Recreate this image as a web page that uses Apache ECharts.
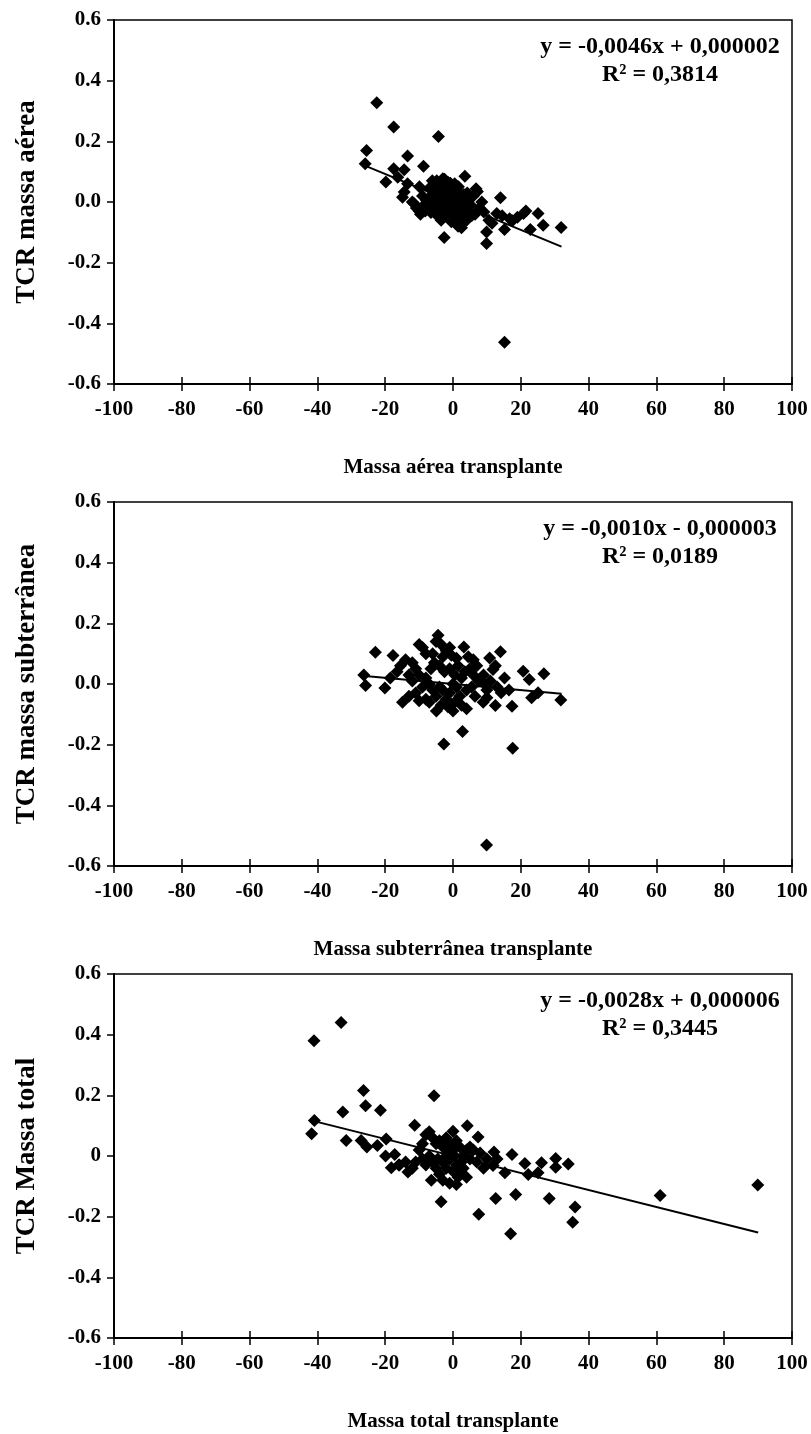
<!DOCTYPE html>
<html><head><meta charset="utf-8">
<script src="https://cdn.jsdelivr.net/npm/echarts@6/dist/echarts.min.js"></script>
<style>html,body{margin:0;padding:0;background:#fff}#c{width:811px;height:1434px}</style>
</head><body><div id="c"></div>
<script>
const xTicks = [-100,-80,-60,-40,-20,0,20,40,60,80,100];
const yTicks = [-0.6,-0.4,-0.2,0,0.2,0.4,0.6];

const xNames = ['Massa aérea transplante','Massa subterrânea transplante','Massa total transplante'];
const yNames = ['TCR massa aérea','TCR massa subterrânea','TCR Massa total'];
const eqLines = ['y = -0,0046x + 0,000002','y = -0,0010x - 0,000003','y = -0,0028x + 0,000006'];
const r2Lines = ['R² = 0,3814','R² = 0,0189','R² = 0,3445'];

const aereaPoints = [[-22.5,0.327],[-17.5,0.247],[-4.3,0.216],[-25.5,0.17],[-25.9,0.126],[-13.4,0.152],[-17.5,0.11],[-14.4,0.106],[-8.7,0.118],[-19.8,0.066],[-16.3,0.082],[-13.4,0.06],[-14.9,0.016],[-14.4,0.033],[-9.9,0.05],[3.5,0.085],[6.8,0.044],[-6.1,0.07],[-3,0.077],[-0.8,0.062],[14,0.014],[-2.6,-0.117],[9.9,-0.137],[15.2,-0.462],[31.9,-0.084],[26.6,-0.077],[25.1,-0.038],[22.8,-0.091],[20.8,-0.038],[19,-0.05],[15.2,-0.091],[12.9,-0.038],[10.6,-0.06],[9.1,-0.033],[9.9,-0.099],[16.7,-0.055],[11.5,-0.07],[14.5,-0.045],[17.5,-0.062],[21.5,-0.03],
[-11.5,-0.005],[-10.8,-0.02],[-9.6,-0.04],[-8.5,-0.01],[-7.8,0.005],[-7.2,-0.025],[-6.5,-0.035],[-6,0.01],[-5.5,-0.015],[-5,0.03],[-4.6,-0.045],[-4.2,0.045],[-3.8,0.0],[-3.5,-0.06],[-3.2,0.02],[-2.8,-0.02],[-2.4,0.06],[-2,-0.04],[-1.6,0.01],[-1.2,-0.01],[-0.8,0.035],[-0.4,-0.03],[0,0.0],[0.4,-0.05],[0.8,0.02],[1.2,-0.02],[1.6,0.05],[2,-0.07],[2.4,0.0],[2.8,-0.04],[3.2,0.025],[3.6,-0.015],[4,-0.06],[4.4,0.01],[4.8,-0.03],[5.2,-0.01],[6,0.02],[6.5,-0.04],[7.2,0.035],[7.8,-0.02],[-9,0.02],[-7,0.045],[-5.5,0.06],[-1,0.055],[1,0.04],[2.5,-0.085],[1.5,-0.08],[-0.5,-0.065],[-4,-0.025],[-6.8,-0.005],[-8.2,-0.03],[5.5,-0.045],[3,-0.055],[0.2,0.015],[-2.2,-0.005],[-3,0.04],[1.8,0.01],[4.2,0.03],[-10,-0.03],[-12,0.0],[8.5,0.0],[-4.8,0.07],[-2.5,0.075],[-1.5,0.065],[0.5,0.06],[-6.5,0.02]];

const subterraneaPoints = [[9.9,-0.531],[-2.7,-0.198],[2.8,-0.157],[17.6,-0.212],[-26.3,0.03],[-25.8,-0.005],[-22.9,0.105],[-17.7,0.094],[-4.4,0.161],[-10,0.13],[3.2,0.122],[14,0.106],[10.8,0.086],[26.8,0.034],[20.7,0.042],[22.5,0.015],[25.1,-0.029],[23.2,-0.045],[31.8,-0.053],[17.4,-0.073],[12.5,-0.071],[8.9,-0.06],[4,-0.082],[0,-0.089],[-4.9,-0.089],[-14.9,-0.06],[-20.1,-0.013],[11.8,0.048],[15.2,0.02],[14.2,-0.029],[8.9,0.005],
[-15.5,0.06],[-14,0.08],[-16.5,0.04],[-18.5,0.02],[-12,0.01],[-11,-0.03],[-13,-0.04],[-10,-0.055],[-8,-0.05],[-7,-0.06],[-9,0.12],[-8,0.1],[-6,0.1],[-5,0.14],[-3.5,0.13],[-2,0.11],[-1,0.12],[-3,0.09],[-6.5,0.05],[-5.5,0.07],[-4,0.06],[-2.5,0.04],[-1,0.05],[0.5,0.03],[1.5,0.06],[2.5,0.02],[3.5,0.04],[5,0.05],[6,0.03],[7,0.06],[7.5,0.01],[5.5,-0.01],[4,-0.02],[2,-0.04],[1,-0.01],[0,0.0],[-1,-0.03],[-2,-0.05],[-3,-0.02],[-4,-0.01],[-5,-0.04],[-6,-0.02],[-7,0.0],[-8,0.02],[-9,-0.01],[-10,0.03],[-11,0.05],[-12,0.07],[-13,0.03],[-3.5,-0.07],[-1.5,-0.075],[0.5,-0.06],[2.5,-0.07],[6.5,-0.04],[9,0.03],[10,-0.02],[11,0.01],[12.5,0.06],[13,-0.01],[6,0.08],[4.5,0.09],[1,0.085],[-0.5,0.095],[16.5,-0.02],[10,-0.045]];

const totalPoints = [[-41,0.38],[-33,0.44],[-26.4,0.216],[-25.8,0.166],[-32.5,0.145],[-21.4,0.151],[-5.6,0.199],[-40.9,0.117],[-41.7,0.073],[-31.5,0.051],[-27.1,0.051],[-25.4,0.03],[-22.3,0.035],[-19.7,0.056],[-11.3,0.101],[4.2,0.1],[7.4,0.063],[0,0.082],[-3.5,-0.151],[7.6,-0.192],[12.6,-0.14],[18.5,-0.127],[17,-0.256],[28.4,-0.14],[36,-0.168],[35.3,-0.218],[34,-0.026],[30.3,-0.008],[30.3,-0.037],[26.1,-0.022],[21.2,-0.025],[17.4,0.005],[22.2,-0.061],[25.1,-0.055],[15.3,-0.055],[11.8,-0.031],[12.1,0.013],[13,-0.01],[1,-0.094],[-6.4,-0.08],[-13.3,-0.053],[-18.2,-0.039],[-19.9,0],[-17.2,0.005],[-15.8,-0.03],[89.9,-0.096],[61.1,-0.13],
[-8,0.07],[-6,0.06],[-5,0.04],[-4,0.05],[-3,0.03],[-2,0.06],[-1,0.04],[0,0.02],[1,0.05],[2,0.03],[3,0.0],[4,0.02],[5,-0.01],[6,0.02],[-7,0.0],[-6,-0.02],[-5,-0.04],[-4,-0.06],[-3,-0.02],[-2,-0.04],[-1,-0.01],[0,-0.05],[1,-0.03],[2,-0.06],[3,-0.04],[4,-0.07],[-8,-0.03],[-9,-0.01],[-10,0.02],[-11,-0.02],[-12,-0.04],[-14,-0.02],[-9,0.04],[-7,0.08],[-2,0.0],[0.5,0.0],[-1.5,0.02],[2.5,-0.02],[5,0.03],[7,-0.02],[8,0.01],[9,-0.04],[-4.5,-0.01],[-3,-0.08],[-1,-0.09],[1.5,-0.07],[10,-0.01],[-16,-0.03]];

const trendAerea = [[-26,0.12],[32,-0.147]];
const trendSubterranea = [[-26,0.026],[32,-0.032]];
const trendTotal = [[-41,0.115],[90,-0.252]];

const pointSets = [aereaPoints, subterraneaPoints, totalPoints];
const trendSets = [trendAerea, trendSubterranea, trendTotal];

const FONT = '"Liberation Serif", "Times New Roman", serif';
const gridTops = [20, 502, 974];
const gridH = 364;
const chart = echarts.init(document.getElementById('c'), null, {renderer:'canvas'});

const grids = [], xAxes = [], yAxes = [], series = [], graphics = [];
gridTops.forEach((top, i) => {
  grids.push({left:114, width:678, top:top, height:gridH, show:true, borderColor:'#000', borderWidth:1.5, backgroundColor:'transparent'});
  const baseX = {gridIndex:i, type:'value', min:xTicks[0], max:xTicks[xTicks.length-1], interval:20};
  xAxes.push(Object.assign({}, baseX, {
    position:'bottom',
    name:xNames[i], nameLocation:'middle', nameGap:73,
    nameTextStyle:{fontFamily:FONT, fontWeight:'bold', fontSize:21, color:'#000'},
    axisLine:{show:true, onZero:false, lineStyle:{color:'#000', width:2}},
    axisTick:{show:true, inside:false, length:7, lineStyle:{color:'#000', width:1.5}},
    axisLabel:{fontFamily:FONT, fontWeight:'bold', fontSize:21, color:'#000', margin:15},
    splitLine:{show:false}
  }));
  xAxes.push(Object.assign({}, baseX, {
    position:'bottom',
    axisLine:{show:false, onZero:false},
    axisTick:{show:true, inside:true, length:7, lineStyle:{color:'#000', width:1.5}},
    axisLabel:{show:false}, splitLine:{show:false}
  }));
  yAxes.push({gridIndex:i, type:'value', min:yTicks[0], max:yTicks[yTicks.length-1], interval:0.2,
    name:yNames[i], nameLocation:'middle', nameGap:73, nameRotate:90,
    nameTextStyle:{fontFamily:FONT, fontWeight:'bold', fontSize:27, color:'#000'},
    axisLine:{show:true, onZero:false, lineStyle:{color:'#000', width:2}},
    axisTick:{show:true, inside:false, length:7, lineStyle:{color:'#000', width:1.5}},
    axisLabel:{fontFamily:FONT, fontWeight:'bold', fontSize:21, color:'#000', margin:13,
      formatter: (v) => (i === 2 && Math.abs(v) < 1e-9) ? '0' : (Math.abs(v) < 1e-9 ? '0.0' : v.toFixed(1))},
    splitLine:{show:false}
  });
  series.push({type:'scatter', xAxisIndex:2*i, yAxisIndex:i, data:pointSets[i], symbol:'diamond', symbolSize:13,
    itemStyle:{color:'#000', opacity:1}, silent:true, z:3});
  series.push({type:'line', xAxisIndex:2*i, yAxisIndex:i, data:trendSets[i], symbol:'none',
    lineStyle:{color:'#000', width:2}, silent:true, z:4});
  graphics.push({type:'text', x:660, y:top+15, style:{text:eqLines[i], fill:'#000', font:'bold 24px ' + FONT, textAlign:'center'}});
  graphics.push({type:'text', x:660, y:top+43, style:{text:r2Lines[i], fill:'#000', font:'bold 24px ' + FONT, textAlign:'center'}});
});

chart.setOption({animation:false, backgroundColor:'#fff', grid:grids, xAxis:xAxes, yAxis:yAxes, series:series, graphic:graphics});
</script>
</body></html>
